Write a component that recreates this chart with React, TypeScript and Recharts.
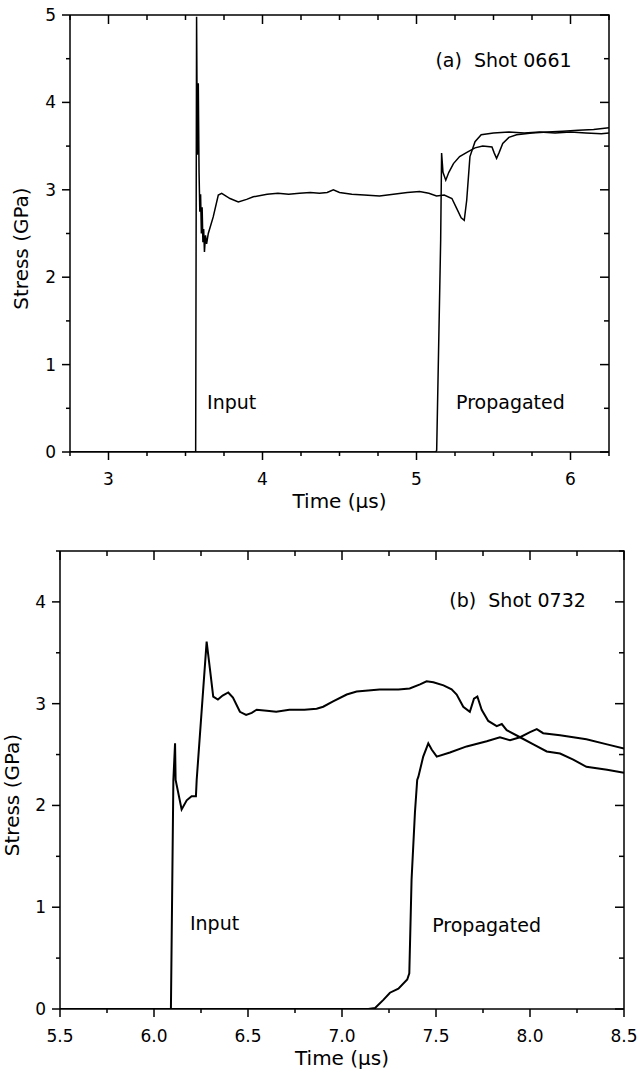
import { Label, Line, LineChart, ReferenceDot, XAxis, YAxis } from "recharts";

const FONT = '"DejaVu Sans", Arial, sans-serif';

// (a) Shot 0661: [time µs, stress GPa]
const shotAInput: [number, number][] = [
  [2.75, 0], [3.566, 0], [3.572, 4.98], [3.577, 3.4], [3.583, 4.22], [3.588, 3.2],
  [3.593, 2.75], [3.598, 2.95], [3.603, 2.5], [3.608, 2.8], [3.613, 2.4], [3.618, 2.55],
  [3.623, 2.29], [3.63, 2.48], [3.637, 2.38], [3.648, 2.5], [3.68, 2.69], [3.713, 2.94],
  [3.735, 2.96], [3.789, 2.9], [3.843, 2.86], [3.897, 2.89], [3.94, 2.92], [4.03, 2.95],
  [4.1, 2.96], [4.17, 2.95], [4.24, 2.96], [4.31, 2.97], [4.37, 2.96], [4.42, 2.97],
  [4.46, 3.0], [4.5, 2.97], [4.58, 2.95], [4.66, 2.94], [4.76, 2.93], [4.85, 2.95],
  [4.94, 2.97], [5.02, 2.98], [5.08, 2.96], [5.13, 2.93], [5.18, 2.94], [5.23, 2.9],
  [5.26, 2.79], [5.29, 2.68], [5.31, 2.65], [5.326, 2.88], [5.347, 3.38], [5.38, 3.55],
  [5.42, 3.63], [5.5, 3.65], [5.6, 3.66], [5.7, 3.65], [5.8, 3.66], [5.9, 3.65],
  [6.0, 3.66], [6.1, 3.65], [6.2, 3.64], [6.25, 3.65],
];
const shotAPropagated: [number, number][] = [
  [2.75, 0], [5.125, 0], [5.131, 0.02], [5.157, 2.43], [5.163, 3.42], [5.172, 3.2],
  [5.19, 3.11], [5.21, 3.2], [5.24, 3.3], [5.28, 3.38], [5.33, 3.43], [5.38, 3.48],
  [5.43, 3.5], [5.49, 3.49], [5.505, 3.42], [5.52, 3.36], [5.535, 3.42], [5.56, 3.53],
  [5.6, 3.6], [5.65, 3.63], [5.75, 3.65], [5.85, 3.66], [5.95, 3.67], [6.05, 3.68],
  [6.15, 3.69], [6.25, 3.71],
];
const shotATimeTicks = [2.75, 3, 3.25, 3.5, 3.75, 4, 4.25, 4.5, 4.75, 5, 5.25, 5.5, 5.75, 6, 6.25];
const shotAStressTicks = [0, 0.5, 1, 1.5, 2, 2.5, 3, 3.5, 4, 4.5, 5];

// (b) Shot 0732
const shotBInput: [number, number][] = [
  [5.5, 0], [6.09, 0], [6.103, 2.25], [6.112, 2.61], [6.115, 2.25], [6.147, 1.96],
  [6.174, 2.05], [6.2, 2.09], [6.223, 2.09], [6.227, 2.25], [6.28, 3.61], [6.297, 3.35],
  [6.315, 3.07], [6.34, 3.04], [6.365, 3.08], [6.395, 3.11], [6.42, 3.06], [6.457, 2.92],
  [6.49, 2.89], [6.52, 2.91], [6.546, 2.94], [6.6, 2.93], [6.65, 2.92], [6.72, 2.94],
  [6.8, 2.94], [6.865, 2.95], [6.9, 2.97], [6.95, 3.02], [7.025, 3.09], [7.078, 3.12],
  [7.2, 3.14], [7.3, 3.14], [7.36, 3.15], [7.415, 3.19], [7.45, 3.22], [7.486, 3.21],
  [7.54, 3.18], [7.583, 3.14], [7.61, 3.09], [7.645, 2.97], [7.68, 2.92], [7.702, 3.05],
  [7.72, 3.07], [7.743, 2.94], [7.778, 2.83], [7.823, 2.78], [7.85, 2.8], [7.876, 2.74],
  [7.947, 2.67], [8.018, 2.6], [8.089, 2.53], [8.16, 2.51], [8.23, 2.45], [8.3, 2.38],
  [8.41, 2.35], [8.5, 2.32],
];
const shotBPropagated: [number, number][] = [
  [5.5, 0], [7.14, 0], [7.176, 0.01], [7.22, 0.09], [7.255, 0.16], [7.3, 0.2],
  [7.347, 0.29], [7.358, 0.35], [7.37, 1.27], [7.388, 1.93], [7.4, 2.25], [7.406, 2.28],
  [7.432, 2.48], [7.459, 2.61], [7.477, 2.55], [7.504, 2.48], [7.574, 2.52], [7.663, 2.58],
  [7.77, 2.63], [7.84, 2.67], [7.894, 2.64], [7.947, 2.67], [8.0, 2.72], [8.036, 2.75],
  [8.07, 2.71], [8.16, 2.69], [8.3, 2.65], [8.41, 2.6], [8.5, 2.56],
];
const shotBTimeTicks = [5.5, 5.75, 6, 6.25, 6.5, 6.75, 7, 7.25, 7.5, 7.75, 8, 8.25, 8.5];
const shotBStressTicks = [0, 0.5, 1, 1.5, 2, 2.5, 3, 3.5, 4, 4.5];

const toPoints = (rows: [number, number][]) => rows.map(([t, v]) => ({ t, v }));

const isMajor = (v: number, step: number) => Math.abs(v / step - Math.round(v / step)) < 1e-6;

// tickSize/tickMargin are 0, so x,y sit on the axis line.
// outward tick + label, plus the inward tick on the opposite side of the frame
function renderTick(p: any, side: "bottom" | "left", majorStep: number, digits: number, span: number) {
  const v = p.payload.value as number;
  const major = isMajor(v, majorStep);
  const len = major ? 8 : 4;
  const inner = major ? 9 : 5;
  const { x, y } = p;
  const txt = { fontSize: 17, fontFamily: FONT, fill: "#000" };
  if (side === "bottom") {
    return (
      <g>
        <line x1={x} y1={y} x2={x} y2={y + len} stroke="#000" strokeWidth={1.5} />
        <line x1={x} y1={y - span} x2={x} y2={y - span + inner} stroke="#000" strokeWidth={1.5} />
        {major && (
          <text x={x} y={y + 33} textAnchor="middle" {...txt}>{v.toFixed(digits)}</text>
        )}
      </g>
    );
  }
  return (
    <g>
      <line x1={x} y1={y} x2={x - len} y2={y} stroke="#000" strokeWidth={1.5} />
      <line x1={x + span} y1={y} x2={x + span - inner} y2={y} stroke="#000" strokeWidth={1.5} />
      {major && (
        <text x={x - 14} y={y + 6} textAnchor="end" {...txt}>{v.toFixed(digits)}</text>
      )}
    </g>
  );
}

const xTitle = (props: any) => {
  const { x, y, width, height } = props.viewBox;
  return (
    <text x={x + width / 2} y={y + height - 2.5} textAnchor="middle" fontSize={20} fontFamily={FONT} fill="#000">
      Time (μs)
    </text>
  );
};

const yTitle = (dx: number) => (props: any) => {
  const { x, y, height } = props.viewBox;
  const cx = x + dx;
  const cy = y + height / 2 + 15;
  return (
    <text
      x={cx}
      y={cy}
      transform={`rotate(-90 ${cx} ${cy})`}
      textAnchor="middle"
      dominantBaseline="central"
      fontSize={20}
      fontFamily={FONT}
      fill="#000"
    >
      Stress (GPa)
    </text>
  );
};

const note = (value: string) => ({ value, position: "center" as const, fontSize: 19, fontFamily: FONT, fill: "#000" });

const X_AXIS_H = 58;
const Y_AXIS_W = 60;

function ShotChart({
  width,
  height,
  margin,
  xDomain,
  yDomain,
  xTicks,
  yTicks,
  xMajor,
  xDigits,
  input,
  propagated,
  stroke,
  titleDx,
  notes,
}: {
  width: number;
  height: number;
  margin: { top: number; right: number; bottom: number; left: number };
  xDomain: [number, number];
  yDomain: [number, number];
  xTicks: number[];
  yTicks: number[];
  xMajor: number;
  xDigits: number;
  input: [number, number][];
  propagated: [number, number][];
  stroke: number;
  titleDx: number;
  notes: { x: number; y: number; text: string }[];
}) {
  const axisLine = { stroke: "#000", strokeWidth: 1.5 };
  const plotL = margin.left + Y_AXIS_W;
  const plotT = margin.top;
  const plotW = width - margin.left - margin.right - Y_AXIS_W;
  const plotH = height - margin.top - margin.bottom - X_AXIS_H;
  return (
    <div style={{ position: "relative", width, height }}>
      <LineChart width={width} height={height} margin={margin}>
        <XAxis
          dataKey="t"
          type="number"
          domain={xDomain}
          ticks={xTicks}
          interval={0}
          allowDataOverflow
          height={X_AXIS_H}
          axisLine={axisLine}
          tickLine={false}
          tickSize={0}
          tickMargin={0}
          tick={(p: any) => renderTick(p, "bottom", xMajor, xDigits, plotH)}
        >
          <Label content={xTitle} />
        </XAxis>
        <XAxis
          xAxisId="top"
          orientation="top"
          dataKey="t"
          type="number"
          domain={xDomain}
          allowDataOverflow
          height={0}
          axisLine={false}
          tickLine={false}
          tick={false}
        />
        <YAxis
          type="number"
          domain={yDomain}
          ticks={yTicks}
          interval={0}
          allowDataOverflow
          width={Y_AXIS_W}
          axisLine={axisLine}
          tickLine={false}
          tickSize={0}
          tickMargin={0}
          tick={(p: any) => renderTick(p, "left", 1, 0, plotW)}
        >
          <Label content={yTitle(titleDx)} />
        </YAxis>
        <YAxis
          yAxisId="right"
          orientation="right"
          type="number"
          domain={yDomain}
          allowDataOverflow
          width={0}
          axisLine={false}
          tickLine={false}
          tick={false}
        />
        <Line
          data={toPoints(input)}
          dataKey="v"
          type="linear"
          stroke="#000"
          strokeWidth={stroke}
          dot={false}
          activeDot={false}
          isAnimationActive={false}
        />
        <Line
          data={toPoints(propagated)}
          dataKey="v"
          type="linear"
          stroke="#000"
          strokeWidth={stroke}
          dot={false}
          activeDot={false}
          isAnimationActive={false}
        />
        {notes.map((n) => (
          <ReferenceDot key={n.text} x={n.x} y={n.y} r={0} fill="none" stroke="none" label={note(n.text)} />
        ))}
      </LineChart>
      {/* top and right sides of the frame */}
      <svg
        width={width}
        height={height}
        style={{ position: "absolute", left: 0, top: 0, pointerEvents: "none" }}
      >
        <polyline
          points={`${plotL},${plotT} ${plotL + plotW},${plotT} ${plotL + plotW},${plotT + plotH}`}
          fill="none"
          stroke="#000"
          strokeWidth={1.5}
        />
      </svg>
    </div>
  );
}

export default function App() {
  return (
    <div
      style={{
        position: "absolute",
        left: 0,
        top: 0,
        width: 639,
        height: 1073,
        background: "#fff",
        fontFamily: FONT,
      }}
    >
      <div style={{ position: "absolute", left: 0, top: 0 }}>
        <ShotChart
          width={639}
          height={515}
          margin={{ top: 15, right: 30, bottom: 5, left: 10 }}
          xDomain={[2.75, 6.25]}
          yDomain={[0, 5]}
          xTicks={shotATimeTicks}
          yTicks={shotAStressTicks}
          xMajor={1}
          xDigits={0}
          input={shotAInput}
          propagated={shotAPropagated}
          stroke={1.5}
          titleDx={11}
          notes={[
            { x: 5.565, y: 4.485, text: "(a)\u00a0\u00a0Shot 0661" },
            { x: 3.8, y: 0.572, text: "Input" },
            { x: 5.61, y: 0.572, text: "Propagated" },
          ]}
        />
      </div>
      <div style={{ position: "absolute", left: 0, top: 520 }}>
        <ShotChart
          width={639}
          height={553}
          margin={{ top: 31, right: 15, bottom: 6, left: 0 }}
          xDomain={[5.5, 8.5]}
          yDomain={[0, 4.5]}
          xTicks={shotBTimeTicks}
          yTicks={shotBStressTicks}
          xMajor={0.5}
          xDigits={1}
          input={shotBInput}
          propagated={shotBPropagated}
          stroke={2}
          titleDx={12}
          notes={[
            { x: 7.934, y: 4.02, text: "(b)\u00a0\u00a0Shot 0732" },
            { x: 6.322, y: 0.846, text: "Input" },
            { x: 7.769, y: 0.826, text: "Propagated" },
          ]}
        />
      </div>
    </div>
  );
}
